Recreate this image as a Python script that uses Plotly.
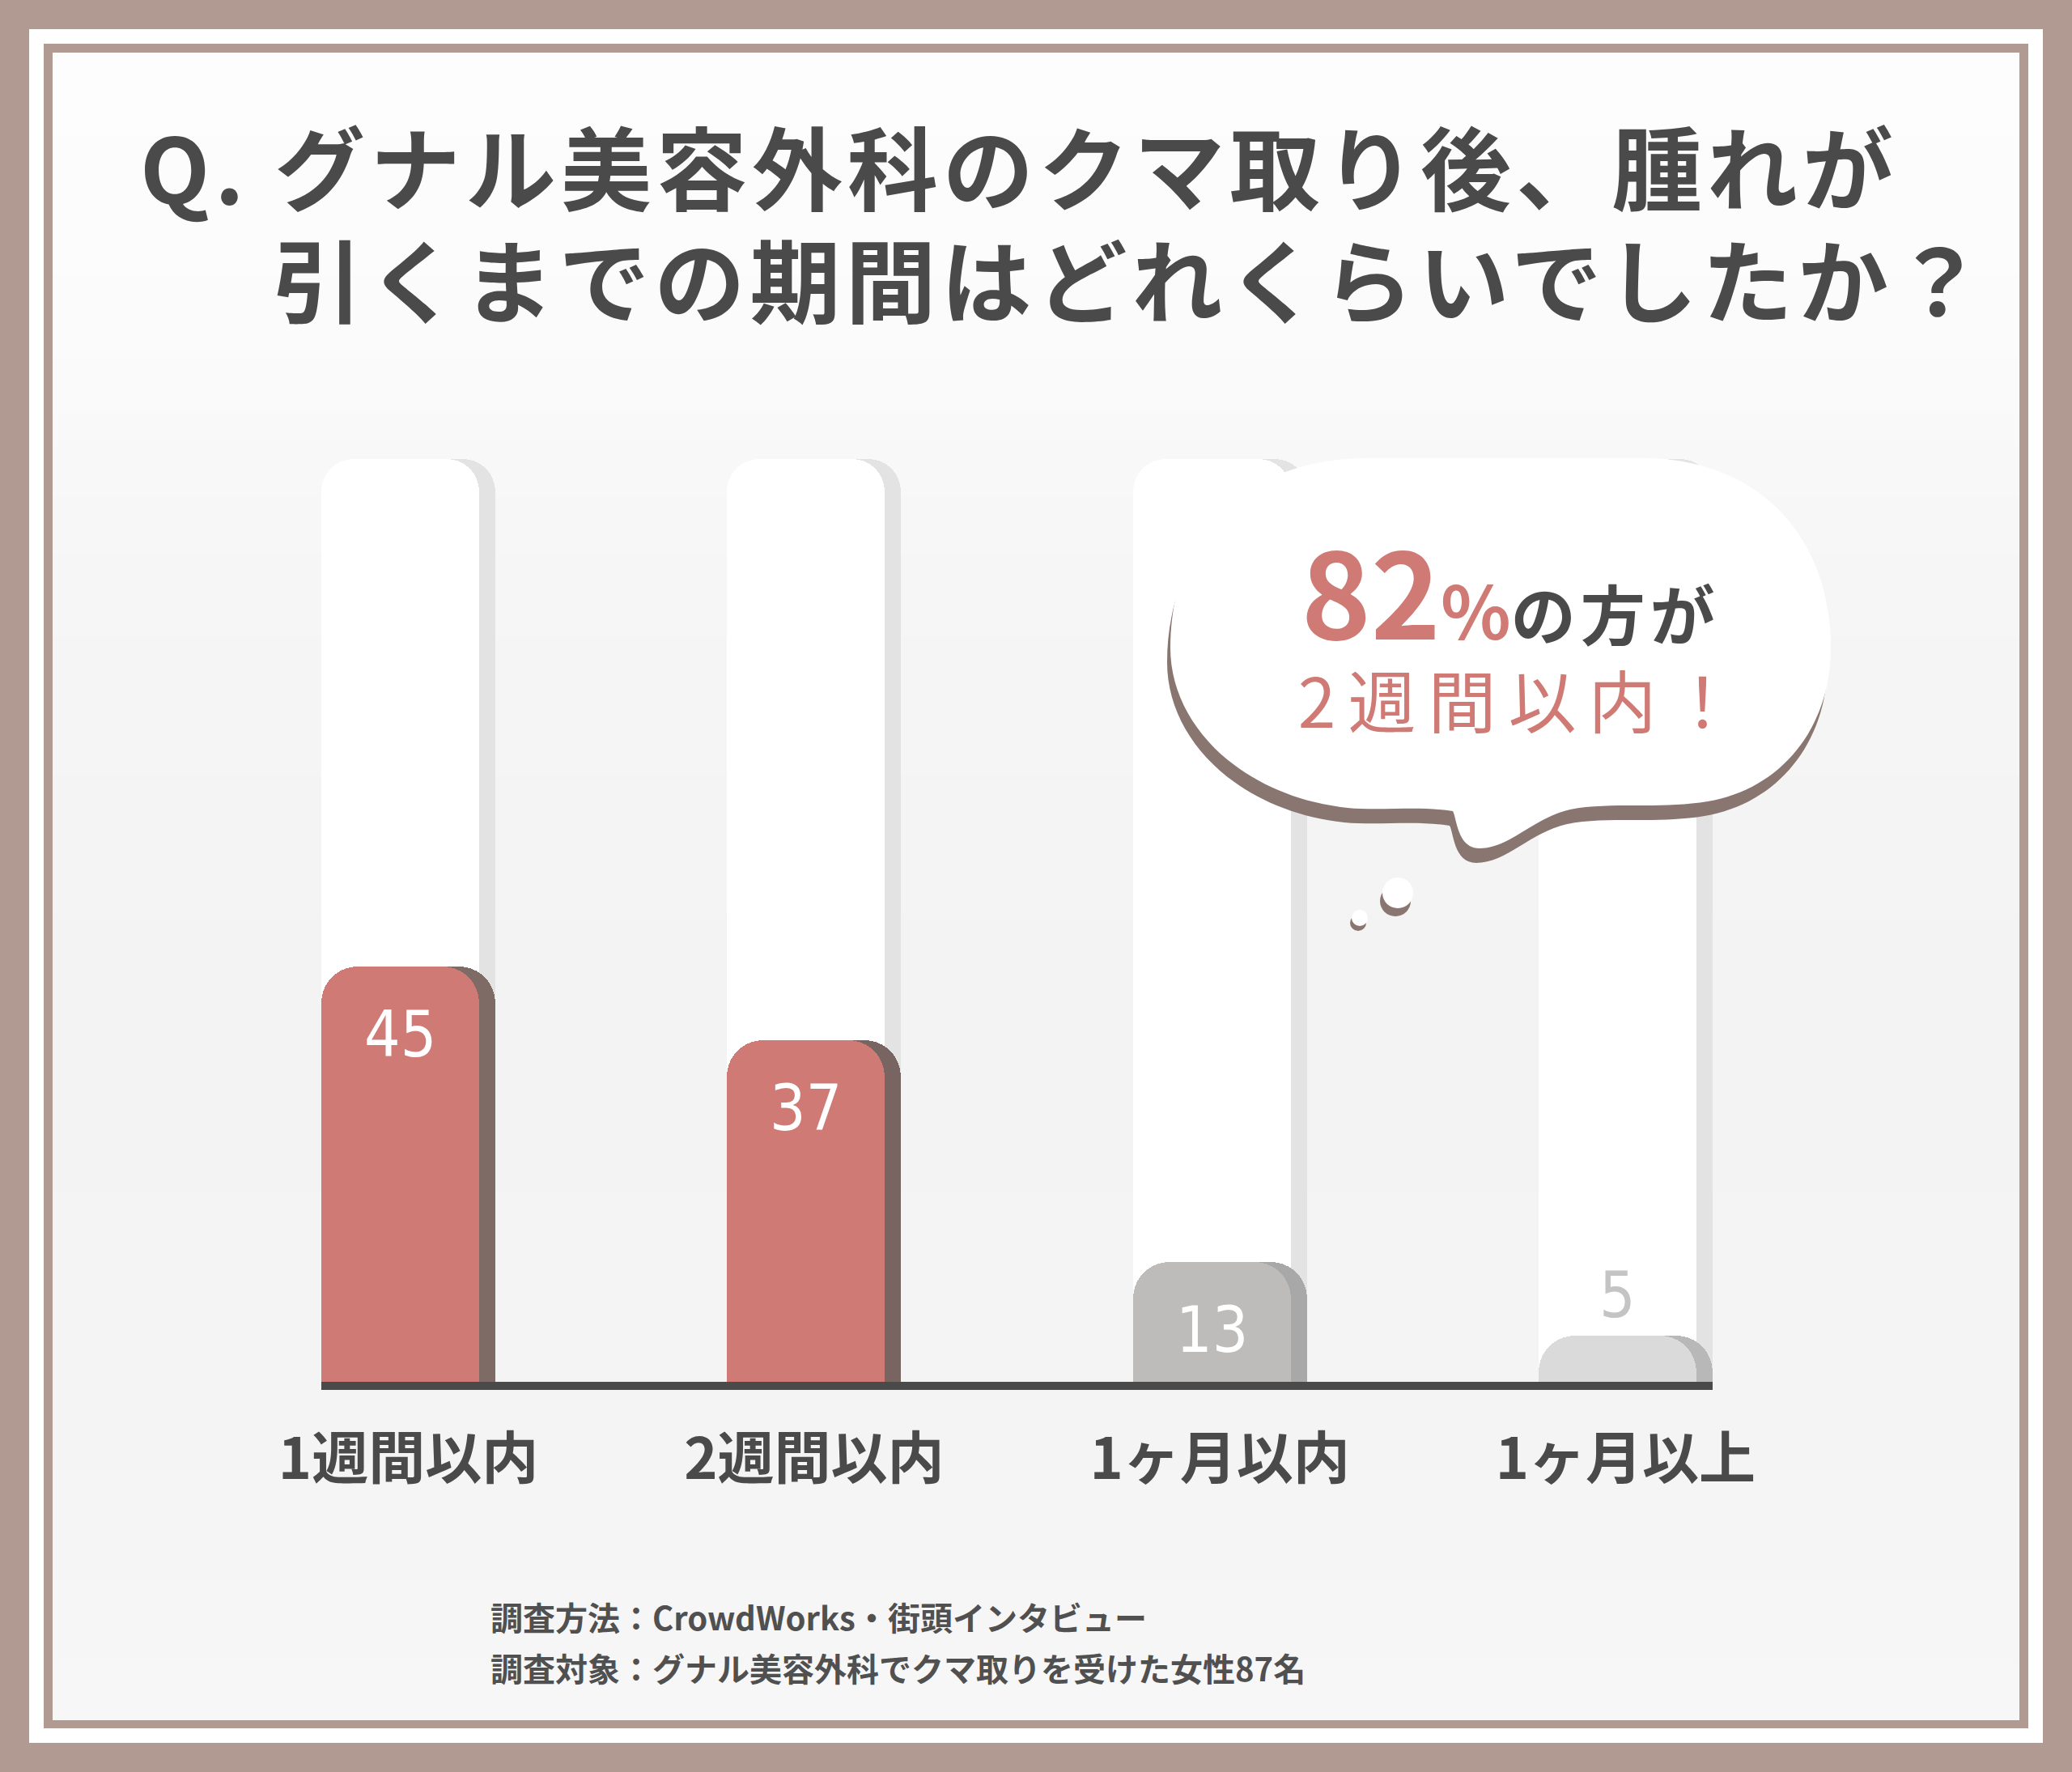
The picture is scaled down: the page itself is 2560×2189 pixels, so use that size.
import plotly.graph_objects as go

# ---------------- data ----------------
categories = ["1週間以内", "2週間以内", "1ヶ月以内", "1ヶ月以上"]
values = [45, 37, 13, 5]
full_scale = [100, 100, 100, 100]
bar_colors = ["#cf7a74", "#cf7a74", "#bebcbb", "#dadada"]
shadow_colors = ["#7e6b66", "#786562", "#a9a8a8", "#b8b8b8"]
label_colors = ["#ffffff", "#ffffff", "#ffffff", "#c4c4c4"]
title_q = "Q."
title_line1 = "グナル美容外科のクマ取り後、腫れが"
title_line2 = "引くまでの期間はどれくらいでしたか？"
bubble_tail_text = "の方が"
bubble_line2 = "2週間以内！"
note_lines = ["調査方法：CrowdWorks・街頭インタビュー",
              "調査対象：グナル美容外科でクマ取りを受けた女性87名"]

# ---------------- layout geometry ----------------
W, H = 2560, 2189
ML, MR, MT, MB = 397, 444, 567, 482
PW, PH = W - ML - MR, H - MT - MB
HALF = 0.2145
UNIT = PW / (3 + 2 * HALF)
BW = 195 / UNIT
SO = 20 / UNIT

JP = "Noto Sans CJK JP"
DARK = "#4a4a4a"
SALMON = "#cf7a74"
BROWN = "#b09a91"


def px(x):
    return (x - ML) / PW


def py(y):
    return 1 - (y - MT) / PH


def path(cmds):
    out = []
    for c in cmds:
        if isinstance(c, str):
            out.append(c)
        else:
            out.append(f"{px(c[0]):.5f},{py(c[1]):.5f}")
    return " ".join(out)


fig = go.Figure()

# pillars (100 %) on the first axis pair
fig.add_bar(x=categories, y=full_scale, width=BW, offset=-HALF + SO, xaxis="x", yaxis="y",
            marker=dict(color="#e3e3e3", cornerradius=40, line_width=0), hoverinfo="skip")
fig.add_bar(x=categories, y=full_scale, width=BW, offset=-HALF, xaxis="x", yaxis="y",
            marker=dict(color="#ffffff", cornerradius=40, line_width=0), hoverinfo="skip")
# value bars on an overlaying axis pair (so their corners get rounded too)
fig.add_bar(x=categories, y=values, width=BW, offset=-HALF + SO, xaxis="x2", yaxis="y2",
            marker=dict(color=shadow_colors, cornerradius=45, line_width=0), hoverinfo="skip")
fig.add_bar(x=categories, y=values, width=BW, offset=-HALF, xaxis="x2", yaxis="y2",
            marker=dict(color=bar_colors, cornerradius=45, line_width=0))

annotations = []
for cat, v, col in zip(categories, values, label_colors):
    inside = v > 10
    annotations.append(dict(
        x=cat, y=v, xref="x2", yref="y2", showarrow=False,
        text=f'<span style="font-stretch:condensed">{v}</span>',
        xshift=-10, yshift=-84 if inside else 50, yanchor="middle",
        font=dict(family="DejaVu Sans Condensed, Liberation Sans Narrow, DejaVu Sans", size=78, color=col)))

# title (one block, second line indented)
indent = '　<span style="letter-spacing:20px"> </span>'
title_txt = (f'<span style="font-size:112px;letter-spacing:6px"><b>{title_q} {title_line1}</b></span><br>'
             f'<span style="font-size:112px;letter-spacing:6px"><b>{indent}{title_line2}</b></span>')
annotations.append(dict(x=px(171), y=py(273), xref="paper", yref="paper", xanchor="left", yanchor="middle",
                        text=title_txt, showarrow=False, align="left",
                        font=dict(family=JP, size=107, color=DARK)))

# bubble text
pct = values[0] + values[1]
bubble_txt = (f'<b><span style="font-size:146px">{pct}</span>'
              f'<span style="font-size:90px">%</span>'
              f'<span style="font-size:80px;color:{DARK};letter-spacing:6px">{bubble_tail_text}</span></b><br>'
              f'<span style="font-size:84px;letter-spacing:15px">\u2009{bubble_line2}</span>')
annotations.append(dict(
    x=px(1866), y=py(772), xref="paper", yref="paper", xanchor="center", yanchor="middle", showarrow=False,
    text=bubble_txt, align="center", font=dict(family=JP, size=84, color=SALMON)))

# footnote
for txt, yy in zip(note_lines, [1997, 2060]):
    annotations.append(dict(x=px(604), y=py(yy), xref="paper", yref="paper", xanchor="left", yanchor="middle",
                            text=f"<b>{txt}</b>", showarrow=False,
                            font=dict(family=JP, size=40, color="#505050")))

shapes = []


def rect(x0, y0, x1, y1, color, layer="below"):
    shapes.append(dict(type="rect", xref="paper", yref="paper", x0=px(x0), x1=px(x1), y0=py(y1), y1=py(y0),
                       fillcolor=color, line_width=0, layer=layer))


rect(36, 36, 2524, 2153, "#ffffff")
rect(54, 54, 2506, 2135, BROWN)

# soft vertical shading of the inner panel
stops = [(65, 253), (420, 251), (700, 246), (1200, 243), (1750, 244), (2124, 247)]


def shade(y):
    for (y0, c0), (y1, c1) in zip(stops[:-1], stops[1:]):
        if y0 <= y <= y1:
            return c0 + (c1 - c0) * (y - y0) / (y1 - y0)
    return stops[-1][1]


n_bands = 60
band_h = (2124 - 65) / n_bands
for i in range(n_bands):
    y0 = 65 + i * band_h
    g = int(round(shade(y0 + band_h / 2)))
    rect(65, y0, 2495, y0 + band_h + 1, f"rgb({g},{g},{g})")

# speech bubble
bubble = [(1446, 800), (1446, 660), (1540, 566), (1690, 566), (2030, 566), (2170, 566), (2262, 660),
          (2262, 800), (2262, 900), (2200, 975), (2110, 990), (2050, 1000), (1990, 990), (1940, 1000),
          (1895, 1010), (1865, 1048), (1828, 1048), (1800, 1048), (1800, 1010), (1795, 1002),
          (1750, 995), (1710, 1002), (1665, 998), (1540, 985), (1446, 900), (1446, 800)]


def bubble_path(dx, dy):
    pts = [(x + dx, y + dy) for x, y in bubble]
    cmds = ["M", pts[0], "C", pts[1], pts[2], pts[3], "L", pts[4]]
    rest = pts[5:]
    for i in range(0, len(rest), 3):
        cmds += ["C", rest[i], rest[i + 1], rest[i + 2]]
    cmds.append("Z")
    return path(cmds)


shapes.append(dict(type="path", xref="paper", yref="paper", path=bubble_path(-4, 18),
                   fillcolor="#8a7670", line_width=0, layer="above"))
shapes.append(dict(type="path", xref="paper", yref="paper", path=bubble_path(0, 0),
                   fillcolor="#ffffff", line_width=0, layer="above"))


def circle(cx, cy, r, color):
    shapes.append(dict(type="circle", xref="paper", yref="paper", x0=px(cx - r), x1=px(cx + r),
                       y0=py(cy + r), y1=py(cy - r), fillcolor=color, line_width=0, layer="above"))


circle(1724, 1113, 19, "#8a7670")
circle(1727, 1103, 19, "#ffffff")
circle(1678, 1140, 10, "#8a7670")
circle(1680, 1134, 10, "#ffffff")

fig.update_layout(
    width=W, height=H, margin=dict(l=ML, r=MR, t=MT, b=MB, pad=0),
    paper_bgcolor=BROWN, plot_bgcolor="rgba(0,0,0,0)",
    barmode="overlay", showlegend=False, bargap=0,
    annotations=annotations, shapes=shapes,
    xaxis=dict(type="category", range=[-HALF, 3 + HALF], showline=True, linecolor=DARK, linewidth=10,
               ticks="", showgrid=False, zeroline=False, ticklabelstandoff=26,
               tickfont=dict(family=JP, size=70, color=DARK, weight="bold")),
    yaxis=dict(range=[0, 100], visible=False, showgrid=False, zeroline=False),
    xaxis2=dict(type="category", matches="x", overlaying="x", visible=False, showgrid=False, zeroline=False),
    yaxis2=dict(range=[0, 100], matches="y", overlaying="y", visible=False, showgrid=False, zeroline=False),
)

fig.write_html("out.html", config={"displayModeBar": False},
               post_script="document.body.style.margin='0';document.body.style.background='#b09a91';")
